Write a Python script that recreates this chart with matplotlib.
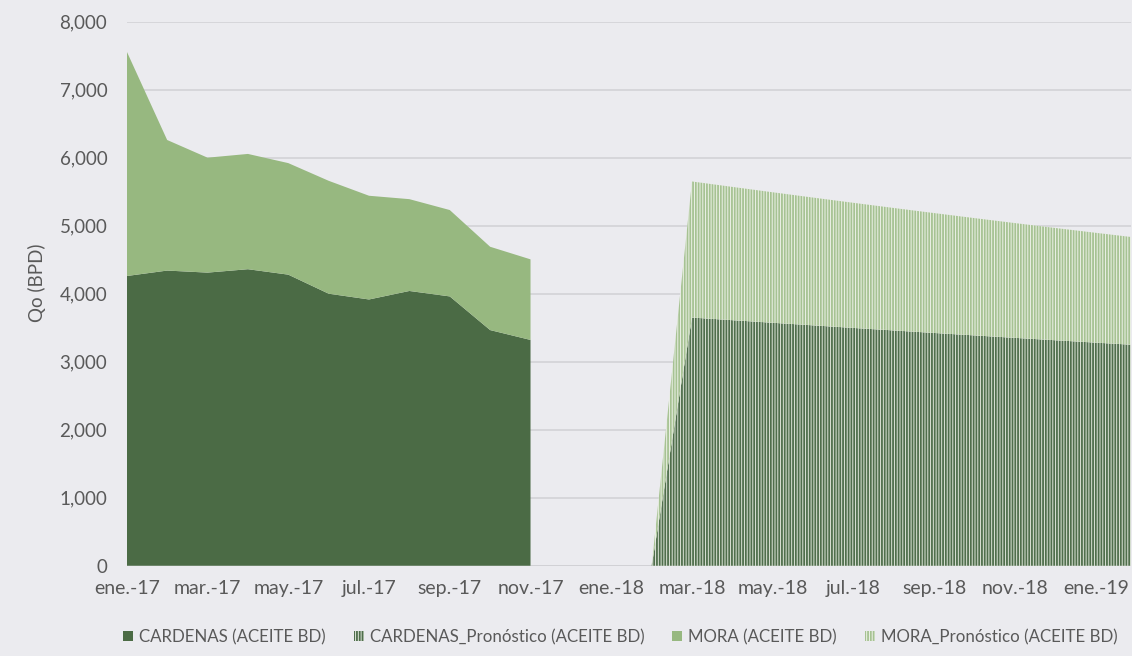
import numpy as np
import matplotlib
matplotlib.use("Agg")
import matplotlib.pyplot as plt

# month index 0 = ene.-17
tick_labels = ["ene.-17", "mar.-17", "may.-17", "jul.-17", "sep.-17", "nov.-17", "ene.-18",
               "mar.-18", "may.-18", "jul.-18", "sep.-18", "nov.-18", "ene.-19"]

# historical, ene.-17 .. nov.-17
hist_months = np.arange(0, 11)
cardenas = [4260, 4340, 4310, 4360, 4280, 4000, 3915, 4040, 3960, 3465, 3320]
mora = [3300, 1920, 1690, 1695, 1640, 1660, 1525, 1350, 1270, 1225, 1185]

# forecast, feb.-18 .. feb.-19
fc_months = np.arange(13, 26)
cardenas_fc = [0, 3650, 3611, 3573, 3535, 3497, 3460, 3423, 3387, 3351, 3316, 3281, 3246]
mora_fc = [0, 2000, 1959, 1918, 1878, 1839, 1800, 1762, 1724, 1687, 1650, 1614, 1579]

bg = "#ebebef"
txt = "#595959"
dark = "#4b6b45"
light = "#97b880"

plt.rcParams["font.family"] = ["Lato", "DejaVu Sans"]
plt.rcParams["hatch.linewidth"] = 1.3

fig = plt.figure(figsize=(11.32, 6.56), dpi=100, facecolor=bg)
ax = fig.add_axes([0.112, 0.1376, 0.887, 0.8294], facecolor=bg)

card = np.array(cardenas)
ax.fill_between(hist_months, 0, card, facecolor=dark, linewidth=0,
                label="CARDENAS (ACEITE BD)")
cf = np.array(cardenas_fc)
ax.fill_between(fc_months, 0, cf, facecolor="#dfe6da", edgecolor="#4f6e4c",
                hatch="||||||", linewidth=0, label="CARDENAS_Pronóstico (ACEITE BD)")
ax.fill_between(hist_months, card, card + np.array(mora), facecolor=light,
                linewidth=0, label="MORA (ACEITE BD)")
ax.fill_between(fc_months, cf, cf + np.array(mora_fc), facecolor="#eef2e8",
                edgecolor="#a6c293", hatch="||||||", linewidth=0,
                label="MORA_Pronóstico (ACEITE BD)")

ax.set_xlim(0, 24.87)
ax.set_ylim(0, 8000)
ax.set_yticks(np.arange(0, 8001, 1000))
ax.set_yticklabels([f"{v:,}" for v in range(0, 8001, 1000)])
ax.set_xticks(np.arange(0, 25, 2))
ax.set_xticklabels(tick_labels)
ax.grid(axis="y", color="#d0d0d4", linewidth=1.1)
ax.set_axisbelow(True)
ax.axhline(0, color="#d0d0d4", linewidth=1.1, zorder=0.5)
for s in ax.spines.values():
    s.set_visible(False)
ax.tick_params(length=0, colors=txt)
ax.tick_params(axis="x", labelsize=14, pad=10)
ax.tick_params(axis="y", labelsize=13.5, pad=14)
ax.set_ylabel("Qo (BPD)", fontsize=13.5, color=txt)
ax.yaxis.set_label_coords(-0.08, 0.52)

fig.legend(loc="center", bbox_to_anchor=(0.548, 1 - 637 / 656), ncol=4,
           frameon=False, fontsize=12.2, labelcolor=txt, handlelength=0.6,
           handleheight=0.6, handletextpad=0.35, columnspacing=1.65)

fig.savefig("out.png", dpi=100, facecolor=bg)
